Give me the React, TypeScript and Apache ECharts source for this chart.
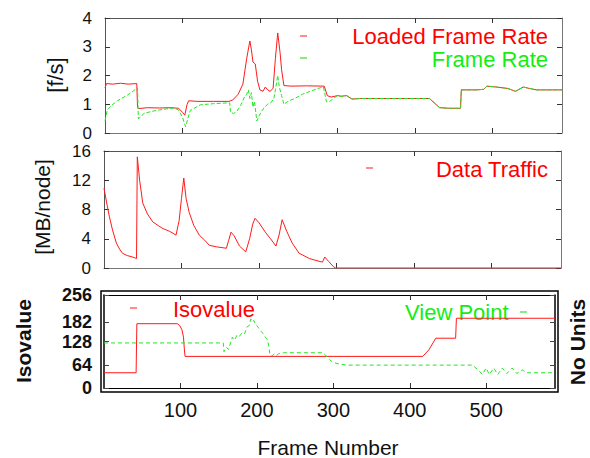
import React, { useEffect, useRef } from "react";
import * as echarts from "echarts";

// ---- data (frame, value) ----
const loadedFrameRate: number[][] = [
  [0, 1.57], [2, 1.72], [10, 1.7], [20, 1.73], [30, 1.7], [41, 1.72], [42, 0.9], [43, 0.85],
  [55, 0.88], [70, 0.87], [85, 0.88], [95, 0.86], [100, 0.72], [103, 0.62], [106, 1.0], [108, 1.12],
  [120, 1.1], [140, 1.1], [160, 1.1], [165, 1.15], [172, 1.35], [178, 1.7], [183, 2.6], [187, 3.2],
  [189, 2.9], [191, 2.47], [194, 2.4], [197, 1.8], [200, 1.5], [204, 1.45], [207, 1.6], [210, 1.5],
  [213, 1.45], [217, 1.55], [220, 2.6], [223, 3.48], [226, 2.8], [228, 2.2], [231, 1.65], [240, 1.63],
  [260, 1.64], [283, 1.63], [287, 1.3], [292, 1.25], [300, 1.3], [305, 1.28], [312, 1.3], [319, 1.18],
  [330, 1.2], [360, 1.2], [400, 1.2], [419, 1.2], [425, 1.05], [432, 0.88], [445, 0.86], [459, 0.86],
  [460, 1.5], [480, 1.5], [489, 1.52], [493, 1.63], [505, 1.6], [520, 1.55], [530, 1.45], [540, 1.6],
  [548, 1.55], [557, 1.5], [590, 1.5],
];
const frameRate: number[][] = [
  [0, 0.42], [3, 0.8], [8, 0.95], [16, 1.12], [29, 1.32], [36, 1.45], [42, 1.57], [43, 0.5],
  [46, 0.55], [50, 0.68], [60, 0.75], [70, 0.8], [80, 0.84], [89, 0.87], [95, 0.8], [100, 0.55],
  [104, 0.22], [107, 0.5], [110, 0.78], [123, 0.98], [140, 1.02], [161, 1.05], [162, 0.72], [166, 0.68],
  [170, 0.75], [175, 0.95], [180, 1.25], [183, 1.35], [185, 1.5], [187, 1.2], [189, 1.4], [191, 0.9],
  [193, 1.1], [196, 0.42], [199, 0.6], [202, 0.75], [206, 0.9], [210, 1.0], [214, 1.05], [218, 1.2],
  [220, 1.5], [223, 2.0], [225, 1.6], [228, 1.3], [231, 1.0], [236, 1.1], [245, 1.2], [255, 1.35],
  [265, 1.45], [275, 1.55], [282, 1.6], [286, 1.08], [290, 1.1], [295, 1.2], [300, 1.3], [305, 1.27],
  [312, 1.3], [319, 1.18], [330, 1.2], [360, 1.2], [400, 1.2], [419, 1.2], [425, 1.05], [432, 0.88],
  [445, 0.86], [459, 0.86], [460, 1.5], [480, 1.5], [489, 1.52], [493, 1.63], [505, 1.6], [520, 1.55],
  [530, 1.45], [540, 1.6], [548, 1.55], [557, 1.5], [590, 1.5],
];
const dataTraffic: number[][] = [
  [0, 10.9], [4, 8.6], [7, 7.0], [11, 5.2], [16, 3.4], [20, 2.6], [24, 2.0], [30, 1.7], [37, 1.5],
  [42, 1.3], [43, 15.2], [46, 12.0], [50, 8.9], [56, 7.4], [63, 6.3], [70, 5.8], [76, 5.4], [85, 5.0],
  [93, 4.5], [97, 6.5], [100, 9.5], [103, 12.3], [106, 9.5], [110, 7.6], [116, 5.8], [123, 4.5],
  [130, 3.8], [136, 3.1], [145, 2.9], [158, 2.7], [161, 3.8], [164, 4.9], [168, 4.4], [175, 3.0],
  [183, 2.2], [188, 4.0], [192, 6.0], [195, 6.8], [200, 6.2], [209, 4.8], [215, 4.0], [222, 3.0],
  [226, 4.5], [230, 6.6], [236, 5.0], [243, 3.4], [252, 2.0], [256, 1.8], [265, 1.3], [275, 1.0],
  [282, 0.8], [285, 1.5], [290, 0.9], [296, 0.2], [299, 0], [590, 0],
];
const isovalue: number[][] = [
  [0, 42], [42, 42], [43, 177], [96, 177], [99, 172], [102, 160], [104, 140], [105, 110], [106, 87],
  [417, 87], [425, 105], [434, 137], [460, 137], [461, 192], [590, 192],
];
const viewPoint: number[][] = [
  [0, 124], [156, 124], [157, 100], [160, 112], [163, 106], [166, 128], [168, 140], [171, 132],
  [174, 146], [177, 142], [181, 153], [184, 150], [187, 168], [190, 172], [192, 190], [194, 182],
  [196, 186], [198, 176], [200, 172], [202, 166], [204, 160], [206, 155], [208, 150], [211, 140],
  [214, 132], [216, 110], [217, 92], [220, 88], [223, 95], [226, 90], [229, 95], [235, 97], [286, 97],
  [290, 90], [295, 78], [300, 70], [308, 66], [318, 63], [482, 63], [491, 47], [495, 37], [500, 55],
  [504, 37], [510, 55], [515, 37], [521, 55], [527, 40], [534, 55], [540, 40], [547, 50], [553, 42],
  [590, 42],
];
const frameTicks = [100, 200, 300, 400, 500];
const isoTicks = [0, 64, 128, 182, 256];

const FONT = "'Liberation Sans', Arial, Helvetica, sans-serif";
const RED = "#ff1a1a";
const GREEN = "#22e622";

export default function App() {
  const ref = useRef<HTMLDivElement>(null);
  useEffect(() => {
    if (!ref.current) return;
    const chart = echarts.init(ref.current, undefined, { renderer: "svg" });
    const frameAxis = (grid: number, pos: "bottom" | "top", labels: boolean, color: string) => ({
      type: "value",
      gridIndex: grid,
      position: pos,
      min: 0,
      max: 590,
      interval: 100,
      axisLine: { show: true, onZero: false, lineStyle: { color, width: 1 } },
      axisTick: { show: true, inside: true, length: 5, customValues: frameTicks, lineStyle: { color: "#333" } },
      axisLabel: {
        show: labels,
        customValues: frameTicks,
        margin: 12,
        fontSize: 20,
        color: "#111",
        fontFamily: FONT,
      },
      splitLine: { show: false },
    });
    const valAxis = (grid: number, pos: "left" | "right", labels: boolean, max: number, interval: number, fs: number, color: string) => ({
      type: "value",
      gridIndex: grid,
      position: pos,
      min: 0,
      max,
      interval,
      axisLine: { show: true, onZero: false, lineStyle: { color, width: 1 } },
      axisTick: { show: true, inside: true, length: 5, lineStyle: { color: "#333" } },
      axisLabel: { show: labels, margin: 13, fontSize: fs, lineHeight: 14, color: "#111", fontFamily: FONT },
      splitLine: { show: false },
    });
    const isoAxis = (pos: "left" | "right", labels: boolean) => ({
      type: "value",
      gridIndex: 2,
      position: pos,
      min: 0,
      max: 256,
      axisLine: { show: true, onZero: false, lineStyle: { color: "#000", width: 1.5 } },
      axisTick: { show: true, inside: true, length: 5, customValues: isoTicks, lineStyle: { color: "#444" } },
      axisLabel: {
        show: labels,
        customValues: isoTicks,
        margin: 12,
        fontSize: 18,
        lineHeight: 15,
        fontWeight: "bold",
        color: "#111",
        fontFamily: FONT,
      },
      splitLine: { show: false },
    });
    const txt = (x: number, y: number, text: string, opts: any = {}) => ({
      type: "text",
      x,
      y,
      rotation: opts.rotation || 0,
      style: {
        text,
        fill: opts.fill || "#111",
        font: `${opts.weight || "normal"} ${opts.size || 22}px ${FONT}`,
        align: opts.align || "center",
        verticalAlign: "middle",
      },
    });
    const dash = (x: number, y: number, color: string) => ({
      type: "line",
      shape: { x1: x, y1: y, x2: x + 7, y2: y },
      style: { stroke: color, lineWidth: 2, opacity: 0.45 },
    });
    chart.setOption({
      animation: false,
      backgroundColor: "#fff",
      grid: [
        { left: 105, right: 28, top: 18, height: 115, show: false },
        { left: 104, right: 29, top: 151, height: 117, show: false },
        { left: 104, right: 35, top: 295, height: 93, show: false },
      ],
      xAxis: [
        frameAxis(0, "bottom", false, "#777"),
        frameAxis(0, "top", false, "#555"),
        frameAxis(1, "bottom", false, "#777"),
        frameAxis(1, "top", false, "#555"),
        frameAxis(2, "bottom", true, "#000"),
        frameAxis(2, "top", false, "#000"),
      ],
      yAxis: [
        valAxis(0, "left", true, 4, 1, 17, "#555"),
        valAxis(0, "right", false, 4, 1, 17, "#777"),
        valAxis(1, "left", true, 16, 4, 17, "#555"),
        valAxis(1, "right", false, 16, 4, 17, "#777"),
        isoAxis("left", true),
        isoAxis("right", false),
      ],
      series: [
        {
          name: "Loaded Frame Rate", type: "line", xAxisIndex: 0, yAxisIndex: 0, data: loadedFrameRate,
          showSymbol: false, symbol: "none", lineStyle: { color: RED, width: 1 },
        },
        {
          name: "Frame Rate", type: "line", xAxisIndex: 0, yAxisIndex: 0, data: frameRate,
          showSymbol: false, symbol: "none", lineStyle: { color: GREEN, width: 1, type: [4, 2] },
        },
        {
          name: "Data Traffic", type: "line", xAxisIndex: 2, yAxisIndex: 2, data: dataTraffic,
          showSymbol: false, symbol: "none", lineStyle: { color: RED, width: 1 },
        },
        {
          name: "Isovalue", type: "line", xAxisIndex: 4, yAxisIndex: 4, data: isovalue,
          showSymbol: false, symbol: "none", lineStyle: { color: RED, width: 1 },
        },
        {
          name: "View Point", type: "line", xAxisIndex: 4, yAxisIndex: 5, data: viewPoint,
          showSymbol: false, symbol: "none", lineStyle: { color: GREEN, width: 1, type: [4, 3] },
        },
      ],
      graphic: [
        {
          type: "rect",
          shape: { x: 101, y: 291, width: 457, height: 101 },
          style: { fill: "none", stroke: "#000", lineWidth: 1.5 },
        },
        txt(55, 75, "[f/s]", { rotation: Math.PI / 2, size: 22 }),
        txt(42, 207, "[MB/node]", { rotation: Math.PI / 2, size: 21 }),
        txt(23, 341, "Isovalue", { rotation: Math.PI / 2, size: 21, weight: "bold" }),
        txt(577, 342, "No Units", { rotation: Math.PI / 2, size: 21, weight: "bold" }),
        txt(328, 447, "Frame Number", { size: 21 }),
        txt(548, 36, "Loaded Frame Rate", { align: "right", fill: "#ff0000" }),
        txt(548, 59, "Frame Rate", { align: "right", fill: "#11ee11" }),
        txt(548, 169, "Data Traffic", { align: "right", fill: "#ff0000" }),
        txt(173, 309, "Isovalue", { align: "left", fill: "#ff0000" }),
        txt(405, 312, "View Point", { align: "left", fill: "#11ee11" }),
        dash(300, 36, "#ff0000"),
        dash(300, 58, "#00cc00"),
        dash(366, 168, "#ff0000"),
        dash(130, 308, "#ff0000"),
        dash(520, 312, "#00cc00"),
      ],
    });
    return () => chart.dispose();
  }, []);
  return (
    <div
      ref={ref}
      style={{ position: "fixed", left: 0, top: 0, width: 590, height: 458, background: "#fff" }}
    />
  );
}
